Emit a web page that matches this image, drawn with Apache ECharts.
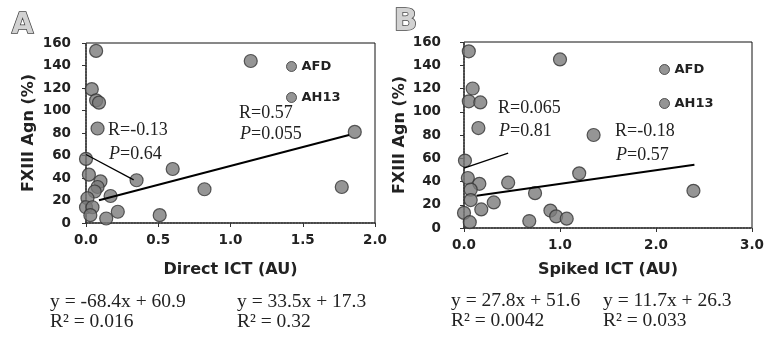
<!DOCTYPE html>
<html><head><meta charset="utf-8">
<script src="https://cdn.jsdelivr.net/npm/echarts@6/dist/echarts.min.js"></script>
<style>html,body{margin:0;padding:0;background:#fff}#c{width:767px;height:346px}</style>
</head><body><div id="c"></div>
<script>
// Panel A: Direct ICT
const afdAx = [0.07,0.04,0.07,0.09,0.08,0.0,0.02,0.10,0.08,0.06,0.01,0.0,0.045,0.03,0.14];
const afdAy = [153,119,109,107,84,57,43,37,32,28,22,14,14,7,4];
const ah13Ax = [1.14,1.86,0.60,0.35,1.77,0.82,0.17,0.22,0.51];
const ah13Ay = [144,81,48,38,32,30,24,10,7];
// Panel B: Spiked ICT
const afdBx = [0.05,0.09,0.05,0.17,0.15,0.01,0.04,0.16,0.07,0.07,0.31,0.18,0.0,0.06,0.46,0.68];
const afdBy = [152,120,109,108,86,58,43,38,33,24,22,16,13,5,39,6];
const ah13Bx = [1.0,0.74,0.9,0.96,1.07,1.2,1.35,2.39];
const ah13By = [145,30,15,10,8,47,80,32];
// Regression line end points
const fitA1 = [[0.0,60.9],[0.33,38.3]];
const fitA2 = [[0.09,20.3],[1.82,78.3]];
const fitB1 = [[0.0,51.6],[0.46,64.4]];
const fitB2 = [[0.13,27.8],[2.40,54.4]];
// Texts
const statsA = [['R=-0.13','0.64'],['R=0.57','0.055']];
const statsB = [['R=0.065','0.81'],['R=-0.18','0.57']];
const eqA = [['y = -68.4x + 60.9','R² = 0.016'],['y = 33.5x + 17.3','R² = 0.32']];
const eqB = [['y = 27.8x + 51.6','R² = 0.0042'],['y = 11.7x + 26.3','R² = 0.033']];
const legendNames = ['AFD','AH13'];
const yTicks = {min:0,max:160,interval:20};

const zip = (xs,ys)=>xs.map((x,i)=>[x,ys[i]]);
const SANS = 'DejaVu Sans';
const SERIF = 'Liberation Serif';
const ptStyle = {color:'#7b7b7b', borderColor:'#333', borderWidth:1.2};

function xAx(gi,max,interval,gap){
  return {gridIndex:gi,type:'value',min:0,max:max,interval:interval,
    name: gi===0?'Direct ICT (AU)':'Spiked ICT (AU)', nameLocation:'middle', nameGap:gap,
    nameTextStyle:{fontFamily:SANS,fontWeight:'bold',fontSize:16,color:'#222'},
    axisLine:{lineStyle:{color:'#333',width:1.5,type:'dotted'}},
    axisTick:{show:true,length:4,lineStyle:{color:'#333'}},
    axisLabel:{margin:10,fontFamily:SANS,fontWeight:'bold',fontSize:13.5,color:'#222',formatter:v=>v.toFixed(1)},
    splitLine:{show:false}};
}
function yAx(gi,margin,gap){
  return {gridIndex:gi,type:'value',min:yTicks.min,max:yTicks.max,interval:yTicks.interval,
    name:'FXIII Agn (%)',nameLocation:'middle',nameGap:gap,nameRotate:90,
    nameTextStyle:{fontFamily:SANS,fontWeight:'bold',fontSize:16,color:'#222'},
    axisLine:{show:true,lineStyle:{color:'#333',width:1.5,type:'dotted'}},
    axisTick:{show:true,length:4,lineStyle:{color:'#333'}},
    axisLabel:{margin:margin,fontFamily:SANS,fontWeight:'bold',fontSize:13.5,color:'#222'},
    splitLine:{show:false}};
}
function sc(name,xi,data){
  return {name:name,type:'scatter',xAxisIndex:xi,yAxisIndex:xi,data:data,symbol:'circle',symbolSize:13,itemStyle:ptStyle,z:3};
}
function ln(xi,data,w){
  return {type:'line',xAxisIndex:xi,yAxisIndex:xi,data:data,symbol:'none',lineStyle:{color:'#000',width:w},z:4,silent:true};
}
function rText(x,y,s){
  return {type:'text',left:x,top:y-10,style:{text:s,font:'18px '+SERIF,fill:'#222'}};
}
function pText(x,y,v){
  return {type:'text',left:x,top:y-10,style:{text:'{i|P}='+v,font:'18px '+SERIF,fill:'#222',
    rich:{i:{fontStyle:'italic',fontFamily:SERIF,fontSize:18,fill:'#222'}}}};
}
function eqText(x,y,pair){
  return {type:'text',left:x,top:y,style:{text:pair[0]+'\n'+pair[1],font:'19.5px '+SERIF,fill:'#222',lineHeight:20}};
}
const legStyle = {orient:'vertical',icon:'circle',itemWidth:10,itemHeight:10,itemGap:18,padding:0,
  textStyle:{fontFamily:SANS,fontWeight:'bold',fontSize:13,color:'#222'},selectedMode:false,
  itemStyle:{color:'#7b7b7b',borderColor:'#333',borderWidth:1}};

const option = {
  animation:false,
  backgroundColor:'#fff',
  grid:[
    {left:86,right:392,top:43,bottom:123,show:true,borderColor:'#111',borderWidth:1,backgroundColor:'transparent'},
    {left:464,right:15,top:42,bottom:118,show:true,borderColor:'#111',borderWidth:1,backgroundColor:'transparent'}
  ],
  xAxis:[xAx(0,2,0.5,39), xAx(1,3,1,34)],
  yAxis:[yAx(0,15,49), yAx(1,23,56)],
  legend:[
    Object.assign({data:legendNames,left:286,top:60},legStyle),
    Object.assign({data:legendNames,left:659,top:63},legStyle,{itemGap:21})
  ],
  series:[
    sc('AFD',0,zip(afdAx,afdAy)), sc('AH13',0,zip(ah13Ax,ah13Ay)),
    sc('AFD',1,zip(afdBx,afdBy)), sc('AH13',1,zip(ah13Bx,ah13By)),
    ln(0,fitA1,1.3), ln(0,fitA2,2), ln(1,fitB1,1.3), ln(1,fitB2,2)
  ],
  graphic:[
    {type:'text',left:11,top:11,style:{text:'A',font:'bold 28px '+SANS,fill:'#d2d2d2',stroke:'#444',lineWidth:1.5}},
    {type:'text',left:393,top:6,style:{text:'B',font:'bold 31px '+SANS,fill:'#d2d2d2',stroke:'#444',lineWidth:1.5}},
    rText(108,131,statsA[0][0]), pText(109,155,statsA[0][1]),
    rText(239,114,statsA[1][0]), pText(240,135,statsA[1][1]),
    rText(498,109,statsB[0][0]), pText(499,132,statsB[0][1]),
    rText(615,132,statsB[1][0]), pText(616,156,statsB[1][1]),
    eqText(50,292,eqA[0]), eqText(237,292,eqA[1]),
    eqText(451,291,eqB[0]), eqText(603,291,eqB[1])
  ]
};
const chart = echarts.init(document.getElementById('c'),null,{renderer:'canvas'});
chart.setOption(option);
</script></body></html>
